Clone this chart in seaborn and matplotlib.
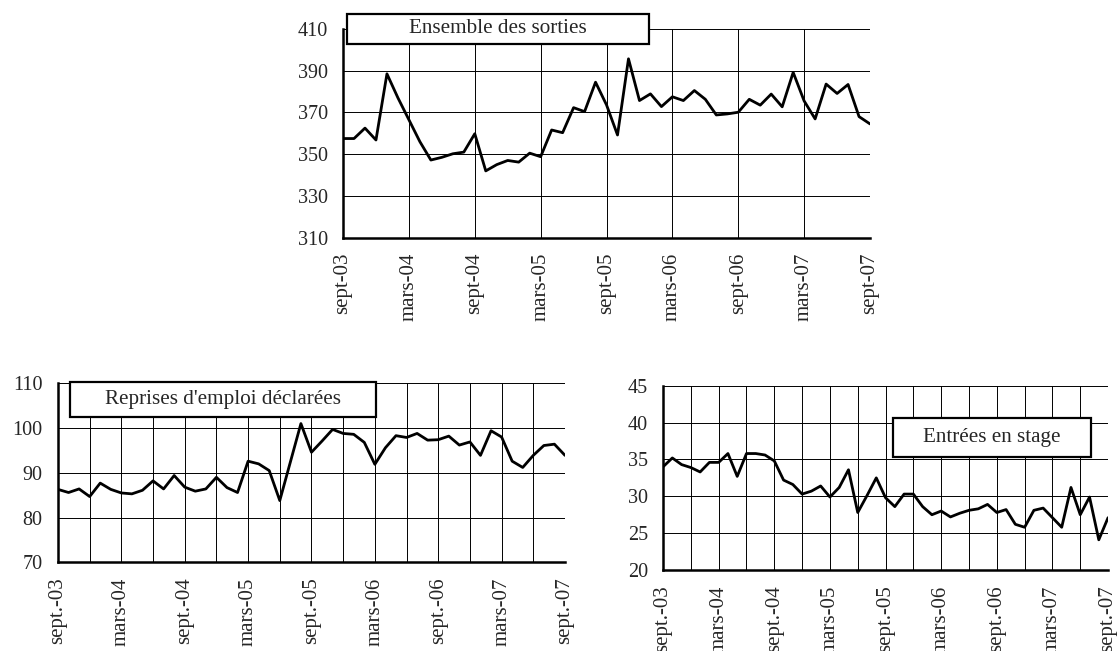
import numpy as np
import pandas as pd
import matplotlib
matplotlib.use("Agg")
import matplotlib.pyplot as plt
import seaborn as sns
from matplotlib.patches import Rectangle

# monthly data, sept-03 .. sept-07 (49 months)
sorties = [357.5, 357.5, 362.5, 356.8, 388.5, 377, 366.5, 356, 347.2, 348.5,
           350.2, 351, 359.8, 342, 345, 347, 346.2, 350.5, 348.8, 361.6,
           360.3, 372.3, 370.4, 384.5, 373.6, 359.2, 395.7, 375.7, 378.9, 372.8,
           377.5, 375.7, 380.5, 376.3, 368.8, 369.3, 370.1, 376.3, 373.5, 378.8,
           372.7, 389.2, 375.5, 366.9, 383.6, 379.1, 383.4, 368, 364.5]

reprises = [86.3, 85.6, 86.4, 84.7, 87.7, 86.3, 85.5, 85.3, 86.1, 88.2,
            86.4, 89.4, 86.8, 85.9, 86.4, 89.0, 86.7, 85.6, 92.6, 92.0,
            90.5, 83.8, 92.4, 101.0, 94.6, 97.1, 99.7, 98.8, 98.6, 96.8,
            91.9, 95.6, 98.3, 97.9, 98.8, 97.3, 97.4, 98.2, 96.2, 96.9,
            93.9, 99.4, 98.0, 92.6, 91.2, 93.9, 96.1, 96.4, 93.9]

stages = [34.0, 35.2, 34.3, 33.9, 33.3, 34.6, 34.6, 35.8, 32.7, 35.8,
          35.8, 35.6, 34.8, 32.2, 31.6, 30.3, 30.7, 31.4, 29.9, 31.2,
          33.6, 27.8, 30.1, 32.5, 29.8, 28.6, 30.3, 30.3, 28.6, 27.5,
          28.0, 27.2, 27.7, 28.1, 28.3, 28.9, 27.8, 28.2, 26.2, 25.8,
          28.1, 28.4, 27.1, 25.8, 31.2, 27.5, 29.9, 24.1, 27.1]

top_labels = ["sept-03", "mars-04", "sept-04", "mars-05", "sept-05",
              "mars-06", "sept-06", "mars-07", "sept-07"]
bottom_labels = ["sept.-03", "mars-04", "sept.-04", "mars-05", "sept.-05",
                 "mars-06", "sept.-06", "mars-07", "sept.-07"]

months = np.arange(len(sorties))

sns.set_style("white")
plt.rcParams['font.family'] = ['Liberation Serif', 'DejaVu Serif']
FS = 14.5

fig = plt.figure(figsize=(11.17, 6.51), dpi=100)
ax_top = fig.add_axes([0.3071, 0.6349, 0.4718, 0.3206])
ax_bl = fig.add_axes([0.0519, 0.1362, 0.4539, 0.2750])
ax_br = fig.add_axes([0.5936, 0.1244, 0.3984, 0.2831])


def style_axis(ax, values, ylim, ystep, xstep, labels, title, box):
    sns.lineplot(x=months, y=values, ax=ax, color="black", linewidth=2.0)
    ax.set_xlim(0, 48)
    ax.set_ylim(*ylim)
    ax.set_yticks(np.arange(ylim[0], ylim[1] + 0.1, ystep))
    xt = np.arange(0, 49, xstep)
    ax.set_xticks(xt)
    per = 6 // xstep
    ax.set_xticklabels([labels[i // per] if i % per == 0 else "" for i in range(len(xt))],
                       rotation=90, fontsize=FS + 0.5)
    ax.tick_params(axis="y", labelsize=FS, pad=5)
    ax.tick_params(axis="x", pad=5)
    ax.tick_params(direction="out", length=6, width=1.8)
    ax.grid(True, color="black", linewidth=0.7)
    ax.set_xlabel("")
    ax.set_ylabel("")
    for s in ["top", "right"]:
        ax.spines[s].set_visible(False)
    for s in ["left", "bottom"]:
        ax.spines[s].set_linewidth(1.8)
        ax.spines[s].set_color("black")
        ax.spines[s].set_zorder(5)
    x0, x1, y0, y1 = box
    ax.add_patch(Rectangle((x0, y0), x1 - x0, y1 - y0, transform=ax.transAxes,
                           facecolor="white", edgecolor="black", linewidth=1.6,
                           clip_on=False, zorder=6))
    ax.text((x0 + x1) / 2, (y0 + y1) / 2, title, transform=ax.transAxes,
            ha="center", va="center", fontsize=FS + 0.7, zorder=7)


style_axis(ax_top, sorties, (310, 410), 20, 6, top_labels,
           "Ensemble des sorties", (0.0076, 0.5806, 0.9281, 1.0719))
style_axis(ax_bl, reprises, (70, 110), 10, 3, bottom_labels,
           "Reprises d'emploi déclarées", (0.0237, 0.627, 0.8117, 1.007))
style_axis(ax_br, stages, (20, 45), 5, 3, bottom_labels,
           "Entrées en stage", (0.5157, 0.9618, 0.6148, 0.8247))

fig.savefig("out.png", dpi=100)
